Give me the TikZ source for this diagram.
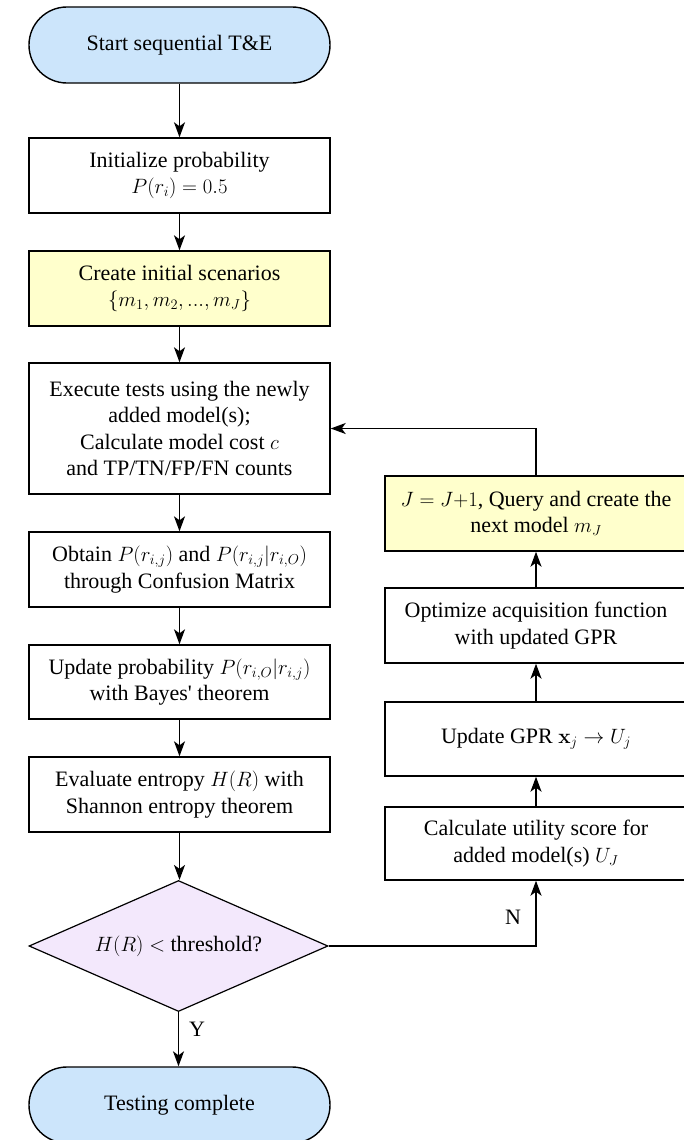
\documentclass[tikz,border=0pt]{standalone}
\usepackage[no-math]{fontspec}
\setmainfont{Liberation Serif}
\usetikzlibrary{shapes.geometric,arrows.meta}
\definecolor{termblue}{HTML}{CCE5FB}
\definecolor{noteyellow}{HTML}{FFFFCC}
\definecolor{decviolet}{HTML}{F3E8FC}
\newcommand{\straightquote}{{\addfontfeatures{Ligatures=TeXOff}'}}
\tikzset{
  every node/.style={font=\fontsize{22}{26.5}\selectfont, align=center},
  box/.style={draw, line width=1.4pt, minimum width=301pt, inner sep=0pt},
  terminal/.style={box, fill=termblue, minimum height=76pt, rounded corners=37.9pt},
  procbox/.style={box, fill=white},
  keybox/.style={box, fill=noteyellow},
  decision/.style={draw, line width=1.2pt, fill=decviolet, shape=diamond, aspect=2.28,
    inner sep=0pt, minimum width=299pt, minimum height=131pt},
  flow/.style={line width=1.4pt, -{Stealth[length=15pt,width=11pt,inset=4pt]}},
  tag/.style={font=\fontsize{22}{26.5}\selectfont}
}
\begin{document}
\begin{tikzpicture}[x=1pt,y=-1pt]
\useasboundingbox (0,0) rectangle (684,1140);

% main column
\node[terminal] (start) at (179.5,45) {Start sequential T\&E};
\node[procbox, minimum height=75pt] (init) at (179.5,175.5) {Initialize probability\\ $P(r_i) = 0.5$};
\node[keybox, minimum height=75pt] (create) at (179.5,288.5) {Create initial scenarios\\ $\{m_1, m_2, ..., m_J\}$};
\node[procbox, minimum height=131pt] (exec) at (179.5,428.5) {Execute tests using the newly\\ added model(s);\\ Calculate model cost $c$\\ and TP/TN/FP/FN counts};
\node[procbox, minimum height=75pt] (obtain) at (179.5,569.5) {Obtain $P(r_{i,j})$ and $P(r_{i,j}|r_{i,O})$\\ through Confusion Matrix};
\node[procbox, minimum height=74pt] (bayes) at (179.5,682) {Update probability $P(r_{i,O}|r_{i,j})$\\ with Bayes\straightquote{} theorem};
\node[procbox, minimum height=75pt] (entropy) at (179.5,794.5) {Evaluate entropy $H(R)$ with\\ Shannon entropy theorem};
\node[decision] (dec) at (178.5,946) {$H(R) <$ threshold?};
\node[terminal] (done) at (179.5,1105) {Testing complete};

% loop column
\node[keybox, minimum width=302pt, minimum height=75pt] (next) at (536,513.5) {$J = J{+}1$, Query and create the\\ next model $m_J$};
\node[procbox, minimum width=302pt, minimum height=75pt] (acq) at (536,625.5) {Optimize acquisition function\\ with updated GPR};
\node[procbox, minimum width=302pt, minimum height=74pt] (gpr) at (536,739) {Update GPR $\mathbf{x}_j \rightarrow U_j$};
\node[procbox, minimum width=302pt, minimum height=73pt] (util) at (536,843.5) {Calculate utility score for\\ added model(s) $U_J$};

% connectors
\draw[flow] (start) -- (init);
\draw[flow] (init) -- (create);
\draw[flow] (create) -- (exec);
\draw[flow] (exec) -- (obtain);
\draw[flow] (obtain) -- (bayes);
\draw[flow] (bayes) -- (entropy);
\draw[flow] (entropy.south) -- (entropy.south |- dec.north);
\draw[flow] (dec.south) -- (dec.south |- done.north);
\draw[flow] (dec.east) -| (util.south);
\draw[flow] (util) -- (gpr);
\draw[flow] (gpr) -- (acq);
\draw[flow] (acq) -- (next);
\draw[flow] (next.north) |- (exec.east);

% branch labels
\node[tag] (ylab) at (197,1029) {Y};
\node[tag] (nlab) at (513,917) {N};
\end{tikzpicture}
\end{document}
